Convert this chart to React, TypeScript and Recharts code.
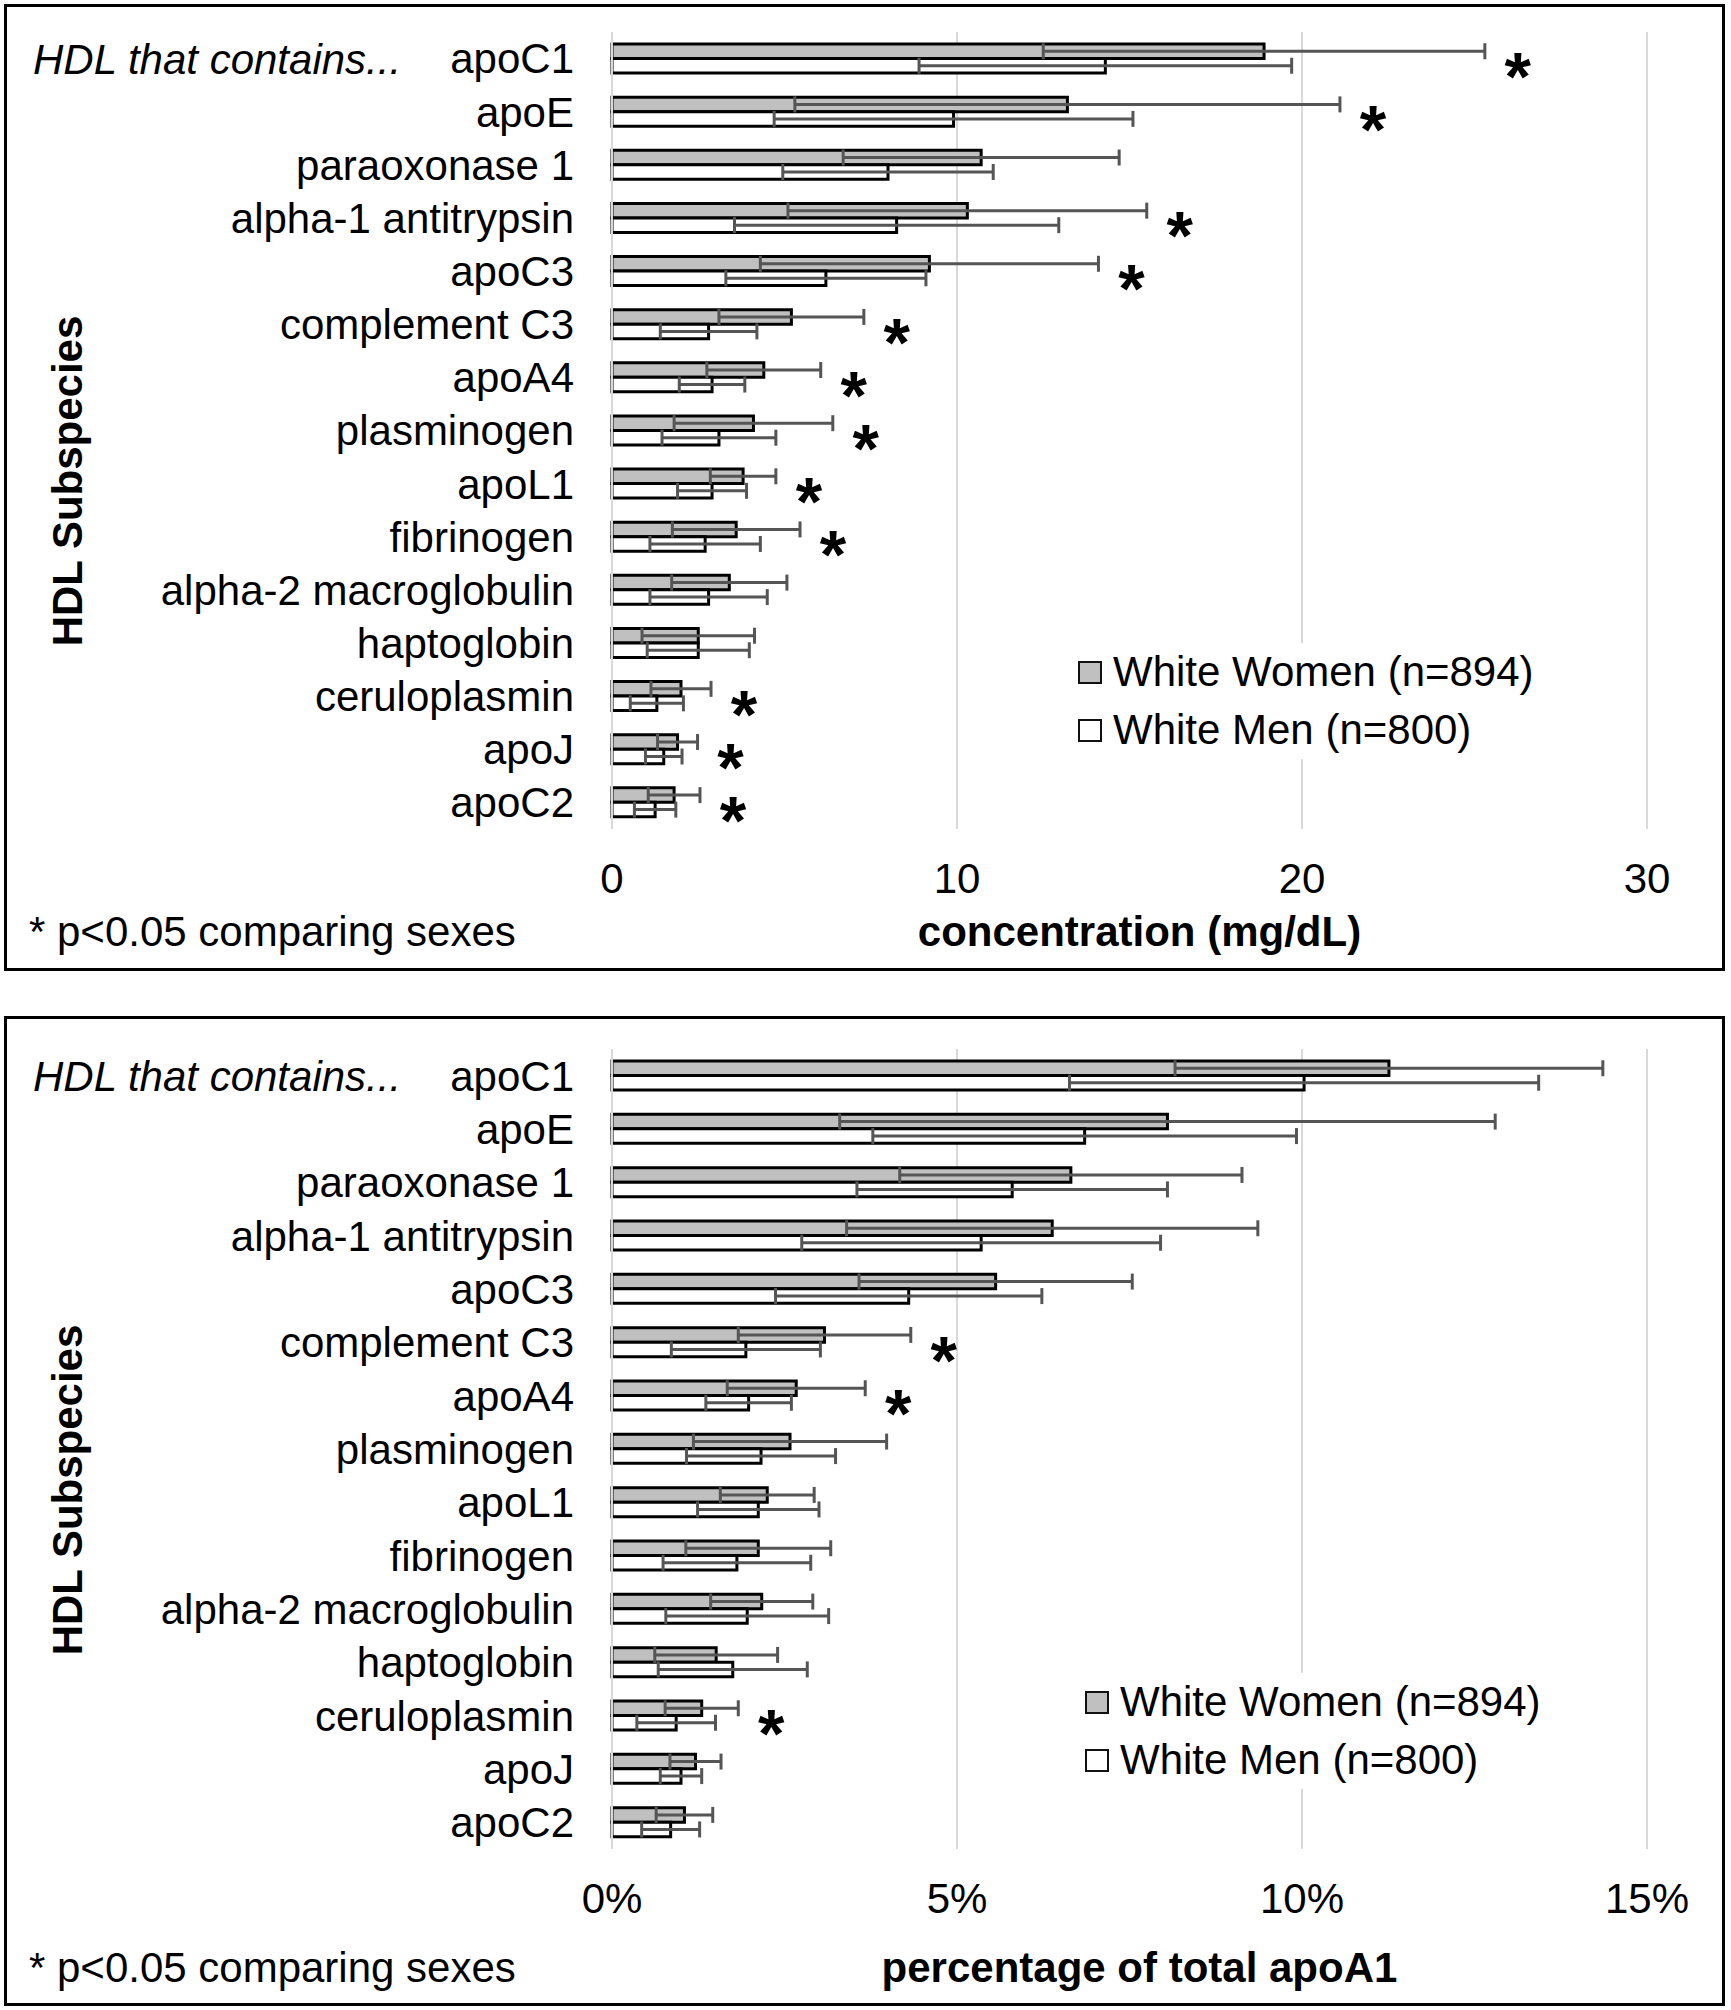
import { Bar, BarChart, CartesianGrid, ErrorBar, LabelList, Legend, XAxis, YAxis } from "recharts";

const FONT = "'Liberation Sans', Arial, sans-serif";

const SUBSPECIES = [
  "apoC1",
  "apoE",
  "paraoxonase 1",
  "alpha-1 antitrypsin",
  "apoC3",
  "complement C3",
  "apoA4",
  "plasminogen",
  "apoL1",
  "fibrinogen",
  "alpha-2 macroglobulin",
  "haptoglobin",
  "ceruloplasmin",
  "apoJ",
  "apoC2",
];

// concentration (mg/dL), mean and SD
const WOMEN_CONC = [18.9, 13.2, 10.7, 10.3, 9.2, 5.2, 4.4, 4.1, 3.8, 3.6, 3.4, 2.5, 2.0, 1.9, 1.8];
const WOMEN_CONC_SD = [6.4, 7.9, 4.0, 5.2, 4.9, 2.1, 1.65, 2.3, 0.95, 1.85, 1.67, 1.63, 0.87, 0.58, 0.75];
const MEN_CONC = [14.3, 9.9, 8.0, 8.25, 6.2, 2.8, 2.9, 3.1, 2.9, 2.7, 2.8, 2.5, 1.3, 1.5, 1.25];
const MEN_CONC_SD = [5.4, 5.2, 3.05, 4.7, 2.9, 1.4, 0.95, 1.65, 1.0, 1.6, 1.7, 1.48, 0.77, 0.53, 0.6];
const CONC_SIGNIFICANT = [true, true, false, true, true, true, true, true, true, true, false, false, true, true, true];
const CONC_TICKS = [0, 10, 20, 30];

// percentage of total apoA1, mean and SD
const WOMEN_PCT = [11.26, 8.05, 6.65, 6.38, 5.56, 3.08, 2.67, 2.58, 2.25, 2.12, 2.17, 1.51, 1.3, 1.21, 1.05];
const WOMEN_PCT_SD = [3.1, 4.75, 2.48, 2.98, 1.98, 1.25, 1.0, 1.4, 0.68, 1.05, 0.74, 0.89, 0.53, 0.37, 0.41];
const MEN_PCT = [10.03, 6.85, 5.8, 5.35, 4.3, 1.94, 1.98, 2.16, 2.12, 1.81, 1.96, 1.75, 0.93, 1.0, 0.85];
const MEN_PCT_SD = [3.4, 3.07, 2.25, 2.6, 1.93, 1.08, 0.62, 1.08, 0.88, 1.07, 1.18, 1.08, 0.57, 0.3, 0.42];
const PCT_SIGNIFICANT = [false, false, false, false, false, true, true, false, false, false, false, false, true, false, false];
const PCT_TICKS = [0, 5, 10, 15];

const SERIES = [
  { label: "White Women (n=894)", fill: "#c0c0c0" },
  { label: "White Men (n=800)", fill: "#ffffff" },
];

type Row = { name: string; women: number; womenSd: number; men: number; menSd: number };

function buildRows(women: number[], womenSd: number[], men: number[], menSd: number[]): Row[] {
  return SUBSPECIES.map((name, i) => ({
    name,
    women: women[i],
    womenSd: womenSd[i],
    men: men[i],
    menSd: menSd[i],
  }));
}

const concRows = buildRows(WOMEN_CONC, WOMEN_CONC_SD, MEN_CONC, MEN_CONC_SD);
const pctRows = buildRows(WOMEN_PCT, WOMEN_PCT_SD, MEN_PCT, MEN_PCT_SD);

const STAR_SIZE = 68;

const makeStar = (rows: Row[], flags: boolean[]) => (props: any) => {
  const index = props.index;
  if (index == null || !flags[index]) return null;
  const vb = props.viewBox ?? {};
  const x = props.x ?? vb.x;
  const y = props.y ?? vb.y;
  const w = props.width ?? vb.width;
  const h = props.height ?? vb.height;
  const row = rows[index];
  const errEnd = x + (w * (row.women + row.womenSd)) / row.women;
  return (
    <text
      key={`star-${index}`}
      x={errEnd + 33}
      y={y + h + 2 + 0.58 * STAR_SIZE}
      textAnchor="middle"
      fontSize={STAR_SIZE}
      fontWeight={700}
      fontFamily={FONT}
      fill="#000"
    >
      *
    </text>
  );
};

function LegendBox() {
  return (
    <div style={{ background: "#fff", paddingLeft: 8, fontFamily: FONT, fontSize: 42, color: "#000" }}>
      {SERIES.map((s) => (
        <div key={s.label} style={{ display: "flex", alignItems: "center", height: 58, lineHeight: "58px" }}>
          <span
            style={{
              display: "block",
              width: 24,
              height: 23,
              boxSizing: "border-box",
              border: "2px solid #111",
              background: s.fill,
              marginRight: 11,
              flex: "none",
            }}
          />
          <span style={{ whiteSpace: "nowrap" }}>{s.label}</span>
        </div>
      ))}
    </div>
  );
}

type PanelProps = {
  top: number;
  height: number;
  rows: Row[];
  flags: boolean[];
  ticks: number[];
  tickFmt: (v: number) => string;
  xTitle: string;
  xAxisHeight: number;
  titleOffset: number;
  legendLeft: number;
  legendTop: number;
  yTitleY: number;
  footBaseline: number;
};

function Panel(p: PanelProps) {
  const text = { fontFamily: FONT, fontSize: 42, fill: "#000" };
  return (
    <div style={{ position: "absolute", left: 0, top: p.top, width: 1731, height: p.height }}>
      <BarChart
        width={1731}
        height={p.height}
        data={p.rows}
        layout="vertical"
        margin={{ top: 32, right: 84, bottom: 0, left: 0 }}
        barSize={14.5}
        barGap={0}
      >
        <CartesianGrid horizontal={false} stroke="#d9d9d9" strokeWidth={2} />
        <XAxis
          type="number"
          domain={[p.ticks[0], p.ticks[p.ticks.length - 1]]}
          ticks={p.ticks}
          interval={0}
          tickFormatter={p.tickFmt}
          axisLine={false}
          tickLine={false}
          tickSize={0}
          tickMargin={34}
          height={p.xAxisHeight}
          tick={text}
          label={{
            value: p.xTitle,
            position: "insideBottom",
            offset: p.titleOffset,
            dx: 10,
            ...text,
            fontWeight: 700,
          }}
        />
        <YAxis
          type="category"
          dataKey="name"
          width={612}
          interval={0}
          axisLine={{ stroke: "#d9d9d9", strokeWidth: 2 }}
          tickLine={false}
          tickSize={0}
          tickMargin={38}
          tick={text}
        />
        <Bar dataKey="women" fill={SERIES[0].fill} stroke="#000" strokeWidth={3} isAnimationActive={false}>
          <ErrorBar dataKey="womenSd" direction="x" width={8} stroke="#555" strokeWidth={3} />
          <LabelList dataKey="women" content={makeStar(p.rows, p.flags)} />
        </Bar>
        <Bar dataKey="men" fill={SERIES[1].fill} stroke="#000" strokeWidth={3} isAnimationActive={false}>
          <ErrorBar dataKey="menSd" direction="x" width={8} stroke="#555" strokeWidth={3} />
        </Bar>
        <Legend
          content={LegendBox}
          layout="horizontal"
          verticalAlign="middle"
          align="center"
          wrapperStyle={{ left: p.legendLeft, top: p.legendTop, width: 480, height: 117 }}
        />
      </BarChart>
      <svg
        width={1731}
        height={p.height}
        style={{ position: "absolute", left: 0, top: 0, pointerEvents: "none" }}
      >
        <text x={33} y={74} {...text} fontStyle="italic">
          HDL that contains...
        </text>
        <text x={29} y={p.footBaseline} {...text}>
          * p&lt;0.05 comparing sexes
        </text>
        <text
          transform={`translate(82, ${p.yTitleY}) rotate(-90)`}
          textAnchor="middle"
          {...text}
          fontWeight={700}
        >
          HDL Subspecies
        </text>
      </svg>
    </div>
  );
}

export default function App() {
  const border = { position: "absolute" as const, boxSizing: "border-box" as const, border: "3px solid #000" };
  return (
    <div style={{ position: "absolute", left: 0, top: 0, width: 1731, height: 2010, background: "#fff" }}>
      <div style={{ ...border, left: 4, top: 4, width: 1721, height: 967 }} />
      <div style={{ ...border, left: 4, top: 1016, width: 1721, height: 990 }} />
      <Panel
        top={0}
        height={969}
        rows={concRows}
        flags={CONC_SIGNIFICANT}
        ticks={CONC_TICKS}
        tickFmt={(v) => String(v)}
        xTitle="concentration (mg/dL)"
        xAxisHeight={140}
        titleOffset={23}
        legendLeft={1070}
        legendTop={643}
        yTitleY={481}
        footBaseline={946}
      />
      <Panel
        top={1017}
        height={987}
        rows={pctRows}
        flags={PCT_SIGNIFICANT}
        ticks={PCT_TICKS}
        tickFmt={(v) => `${v}%`}
        xTitle="percentage of total apoA1"
        xAxisHeight={155}
        titleOffset={22}
        legendLeft={1077}
        legendTop={656}
        yTitleY={473}
        footBaseline={965}
      />
    </div>
  );
}
